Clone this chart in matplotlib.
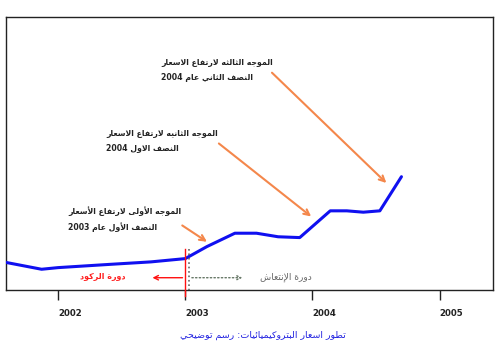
import matplotlib
matplotlib.use("Agg")
import matplotlib.pyplot as plt
import matplotlib.transforms as mtransforms

# arabic shaping (matplotlib has no complex text layout)
FORMS = {
    'ا': ('\uFE8D', '\uFE8E', None, None),
    'أ': ('\uFE83', '\uFE84', None, None),
    'إ': ('\uFE87', '\uFE88', None, None),
    'ب': ('\uFE8F', '\uFE90', '\uFE91', '\uFE92'),
    'ة': ('\uFE93', '\uFE94', None, None),
    'ت': ('\uFE95', '\uFE96', '\uFE97', '\uFE98'),
    'ث': ('\uFE99', '\uFE9A', '\uFE9B', '\uFE9C'),
    'ج': ('\uFE9D', '\uFE9E', '\uFE9F', '\uFEA0'),
    'ح': ('\uFEA1', '\uFEA2', '\uFEA3', '\uFEA4'),
    'د': ('\uFEA9', '\uFEAA', None, None),
    'ر': ('\uFEAD', '\uFEAE', None, None),
    'س': ('\uFEB1', '\uFEB2', '\uFEB3', '\uFEB4'),
    'ش': ('\uFEB5', '\uFEB6', '\uFEB7', '\uFEB8'),
    'ص': ('\uFEB9', '\uFEBA', '\uFEBB', '\uFEBC'),
    'ض': ('\uFEBD', '\uFEBE', '\uFEBF', '\uFEC0'),
    'ط': ('\uFEC1', '\uFEC2', '\uFEC3', '\uFEC4'),
    'ع': ('\uFEC9', '\uFECA', '\uFECB', '\uFECC'),
    'ف': ('\uFED1', '\uFED2', '\uFED3', '\uFED4'),
    'ك': ('\uFED9', '\uFEDA', '\uFEDB', '\uFEDC'),
    'ل': ('\uFEDD', '\uFEDE', '\uFEDF', '\uFEE0'),
    'م': ('\uFEE1', '\uFEE2', '\uFEE3', '\uFEE4'),
    'ن': ('\uFEE5', '\uFEE6', '\uFEE7', '\uFEE8'),
    'ه': ('\uFEE9', '\uFEEA', '\uFEEB', '\uFEEC'),
    'و': ('\uFEED', '\uFEEE', None, None),
    'ى': ('\uFEEF', '\uFEF0', None, None),
    'ي': ('\uFEF1', '\uFEF2', '\uFEF3', '\uFEF4'),
    'ئ': ('\uFE89', '\uFE8A', '\uFE8B', '\uFE8C'),
    'لا': ('\uFEFB', '\uFEFC', None, None),
    'لأ': ('\uFEF7', '\uFEF8', None, None),
    'لإ': ('\uFEF9', '\uFEFA', None, None),
}


def shape(s):
    units = []
    i = 0
    while i < len(s):
        if s[i] == 'ل' and i + 1 < len(s) and s[i:i + 2] in FORMS:
            units.append(s[i:i + 2])
            i += 2
        else:
            units.append(s[i])
            i += 1
    out = []
    for k, u in enumerate(units):
        if u not in FORMS:
            out.append(u)
            continue
        f = FORMS[u]
        prev = units[k - 1] if k > 0 else None
        nxt = units[k + 1] if k + 1 < len(units) else None
        joins_prev = prev in FORMS and FORMS[prev][2] is not None
        joins_next = f[2] is not None and nxt in FORMS
        if joins_prev and joins_next:
            out.append(f[3])
        elif joins_prev:
            out.append(f[1])
        elif joins_next:
            out.append(f[2])
        else:
            out.append(f[0])
    # visual order: reverse, keep digit runs left-to-right
    tokens = []
    for ch in out:
        if ch.isdigit() and tokens and tokens[-1][0].isdigit():
            tokens[-1] += ch
        else:
            tokens.append(ch)
    return ''.join(reversed(tokens))


def ar(s):
    return '\n'.join(shape(line) for line in s.split('\n'))


# data: illustrative petrochemical price index
years = [2001.59, 2001.87, 2002.00, 2002.41, 2002.73, 2003.0, 2003.17, 2003.39,
         2003.56, 2003.73, 2003.90, 2004.14, 2004.27, 2004.40, 2004.53, 2004.70]
prices = [10.1, 7.6, 8.2, 9.4, 10.3, 11.5, 15.9, 20.8,
          20.8, 19.5, 19.2, 29.0, 29.0, 28.5, 29.0, 41.5]
tick_years = [2002, 2003, 2004, 2005]
tick_labels = ['2002', '2003', '2004', '2005']

wave_texts = ['الموجه الثالثه لارتفاع الاسعار\nالنصف الثاني عام 2004',
              'الموجه الثانيه لارتفاع الاسعار\nالنصف الاول 2004',
              'الموجه الأولى لارتفاع الأسعار\nالنصف الأول عام 2003']
recession_label = 'دورة الركود'
recovery_label = 'دورة الإنتعاش'
caption = 'تطور اسعار البتروكيميائيات: رسم توضيحي'

plt.rcParams['font.family'] = ['DejaVu Sans']

fig = plt.figure(figsize=(5.0, 3.51), dpi=100)
ax = fig.add_axes([6 / 500, 1 - 290 / 351, 487 / 500, 273 / 351])
ax.set_xlim(2001.59, 2005.42)
ax.set_ylim(0, 100)

ax.plot(years, prices, color='#1010F0', lw=2.2, solid_capstyle='round', zorder=3)

for sp in ax.spines.values():
    sp.set_color('#222222')
    sp.set_linewidth(1.0)
ax.set_yticks([])
ax.set_xticks(tick_years)
ax.set_xticklabels(tick_labels, fontsize=6.2, fontweight='bold', color='#222222')
ax.tick_params(axis='x', direction='out', length=7.5, width=1.0, pad=6.5, color='#222222')
offset = mtransforms.ScaledTranslation(12 / 100, 0, fig.dpi_scale_trans)
for lbl in ax.get_xticklabels():
    lbl.set_transform(lbl.get_transform() + offset)

# wave annotations
text_pos = [(2002.81, 80.6), (2002.376, 54.8), (2002.08, 26.0)]
arrow_tail = [(2003.666, 80.3), (2003.247, 54.3), (2002.958, 24.2)]
arrow_head = [(2004.597, 38.5), (2004.007, 26.3), (2003.189, 17.1)]
for t, (tx, ty), tail, head in zip(wave_texts, text_pos, arrow_tail, arrow_head):
    ax.text(tx, ty, ar(t), ha='left', va='center', fontsize=5.6,
            fontweight='bold', color='#222222', linespacing=1.8)
    ax.annotate('', xy=head, xytext=tail,
                arrowprops=dict(arrowstyle='->', color='#F4874B', lw=1.5,
                                mutation_scale=10))

# recession / recovery split
ax.plot([2003.0, 2003.0], [15.0, -2.2], color='#FF1010', lw=1.0, clip_on=False, zorder=4)
ax.plot([2003.03, 2003.03], [15.0, 0], color='#666666', lw=1.2, ls=':', zorder=4)
ax.annotate('', xy=(2002.72, 4.5), xytext=(2003.0, 4.5),
            arrowprops=dict(arrowstyle='->', color='#FF1010', lw=1.0, mutation_scale=8))
ax.annotate('', xy=(2003.47, 4.5), xytext=(2003.03, 4.5),
            arrowprops=dict(arrowstyle='->', color='#667766', lw=1.0, ls=':',
                            mutation_scale=7))
ax.text(2002.35, 4.8, ar(recession_label), ha='center', va='center', fontsize=5.8,
        fontweight='bold', color='#FF2020')
ax.text(2003.79, 4.8, ar(recovery_label), ha='center', va='center', fontsize=6.6,
        color='#666666')

fig.text(263 / 500, 1 - 335 / 351, ar(caption), ha='center', va='center',
         fontsize=6.8, color='#2020E0')

fig.savefig('out.png', dpi=100)
